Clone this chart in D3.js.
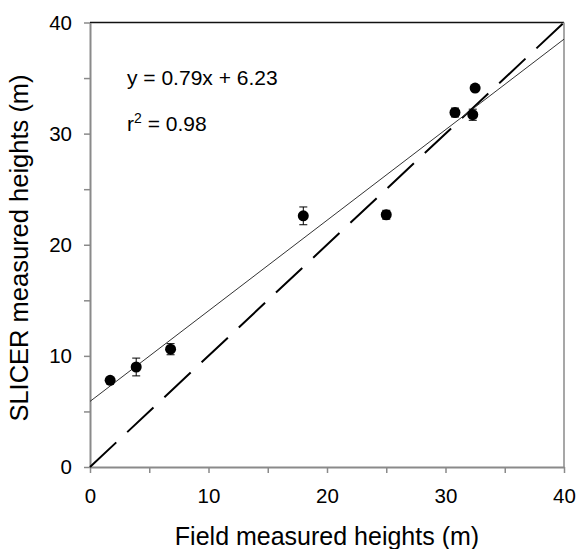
<!DOCTYPE html>
<html>
<head>
<meta charset="utf-8">
<script src="https://cdn.jsdelivr.net/npm/d3@7"></script>
<style>
  body { margin: 0; background: #fff; }
  text { font-family: "Liberation Sans", Arial, sans-serif; fill: #000; }
</style>
</head>
<body>
<svg id="chart" width="577" height="549"></svg>
<script>
// values
const fieldHeights = [1.7, 3.9, 6.8, 18.0, 25.0, 30.8, 32.3, 32.5];
const slicerHeights = [7.8, 9.0, 10.6, 22.6, 22.7, 31.9, 31.7, 34.1];
const slicerErr = [0.2, 0.8, 0.5, 0.8, 0.4, 0.4, 0.5, 0.2];
const fitLine = [[0, 5.9], [40, 38.5]];
const oneToOne = [[0, 0], [40, 40]];
const tickValues = [0, 5, 10, 15, 20, 25, 30, 35, 40];
const eqText = "y = 0.79x + 6.23";
const r2Text = "0.98";

const svg = d3.select("#chart");
const margin = {top: 22.5, left: 90, bottom: 82, right: 13};
const width = +svg.attr("width");
const height = +svg.attr("height");

const x = d3.scaleLinear().domain([0, 40]).range([margin.left, width - margin.right]);
const y = d3.scaleLinear().domain([0, 40]).range([height - margin.bottom, margin.top]);

const data = fieldHeights.map((f, i) => ({x: f, y: slicerHeights[i], e: slicerErr[i]}));

const axisColor = "#8a8a8a";
const fmt = d => d % 10 === 0 ? d : "";

// frame: top black, right grey
svg.append("line")
    .attr("x1", x(0)).attr("x2", x(40))
    .attr("y1", y(40)).attr("y2", y(40))
    .attr("stroke", "#111").attr("stroke-width", 1.5);
svg.append("line")
    .attr("x1", x(40)).attr("x2", x(40))
    .attr("y1", y(40)).attr("y2", y(0))
    .attr("stroke", axisColor).attr("stroke-width", 1.5);

const xAxis = svg.append("g")
    .attr("transform", `translate(0,${y(0)})`)
    .call(d3.axisBottom(x).tickValues(tickValues).tickFormat(fmt).tickSize(6).tickPadding(15).tickSizeOuter(0));

const yAxis = svg.append("g")
    .attr("transform", `translate(${x(0)},0)`)
    .call(d3.axisLeft(y).tickValues(tickValues).tickFormat(fmt).tickSize(6).tickPadding(12).tickSizeOuter(0));

[xAxis, yAxis].forEach(g => {
    g.select(".domain").attr("stroke", axisColor).attr("stroke-width", 2);
    g.selectAll(".tick line").attr("stroke", axisColor).attr("stroke-width", 1.5);
    g.selectAll(".tick text")
        .attr("font-family", "Liberation Sans, Arial, sans-serif")
        .attr("font-size", 20.5)
        .attr("fill", "#000");
});

// 1:1 line
const line = d3.line().x(d => x(d[0])).y(d => y(d[1]));
svg.append("path")
    .attr("d", line(oneToOne))
    .attr("fill", "none")
    .attr("stroke", "#000")
    .attr("stroke-width", 2)
    .attr("stroke-dasharray", "36,15");

// regression line
svg.append("path")
    .attr("d", line(fitLine))
    .attr("fill", "none")
    .attr("stroke", "#333")
    .attr("stroke-width", 1);

// error bars
const eb = svg.append("g").attr("stroke", "#000").attr("stroke-width", 1);
data.forEach(d => {
    eb.append("line")
        .attr("x1", x(d.x)).attr("x2", x(d.x))
        .attr("y1", y(d.y - d.e)).attr("y2", y(d.y + d.e));
    [d.y - d.e, d.y + d.e].forEach(v => {
        eb.append("line")
            .attr("x1", x(d.x) - 4).attr("x2", x(d.x) + 4)
            .attr("y1", y(v)).attr("y2", y(v));
    });
});

svg.selectAll("circle.pt")
    .data(data)
    .enter().append("circle")
    .attr("class", "pt")
    .attr("cx", d => x(d.x))
    .attr("cy", d => y(d.y))
    .attr("r", 5.5)
    .attr("fill", "#000");

// equation text
svg.append("text")
    .attr("x", 127).attr("y", 85)
    .attr("font-size", 21)
    .text(eqText);

const r2 = svg.append("text")
    .attr("x", 127).attr("y", 131)
    .attr("font-size", 21);
r2.append("tspan").text("r");
r2.append("tspan").attr("dy", -8).attr("font-size", 14).text("2");
r2.append("tspan").attr("dy", 8).text(" = " + r2Text);

// axis titles
svg.append("text")
    .attr("x", (x(0) + x(40)) / 2)
    .attr("y", 545)
    .attr("text-anchor", "middle")
    .attr("font-size", 25)
    .text("Field measured heights (m)");

svg.append("text")
    .attr("transform", `translate(28,248) rotate(-90)`)
    .attr("text-anchor", "middle")
    .attr("font-size", 25.5)
    .text("SLICER measured heights (m)");
</script>
</body>
</html>
